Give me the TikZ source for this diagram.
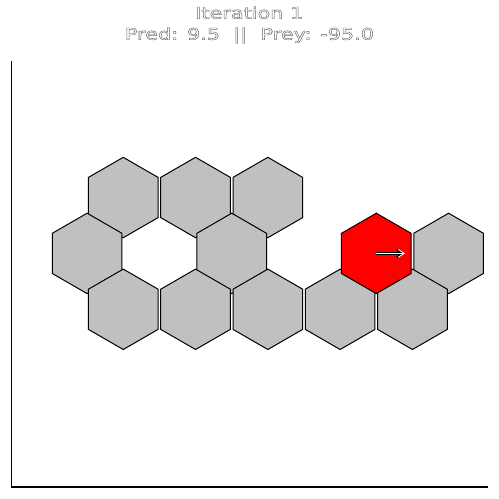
\documentclass[tikz,border=0pt]{standalone}
\usepackage{fontspec}
\setmainfont{DejaVu Sans}
\usepackage{graphicx}
\usepackage{tikz}
\usetikzlibrary{shapes.geometric, arrows.meta, positioning, calc}
\definecolor{cCell}{RGB}{192,192,192}
\definecolor{cPred}{RGB}{255,0,0}
\definecolor{cTitle}{RGB}{100,100,100}
\newcommand{\outlinetext}[1]{\scalebox{1.3}[1]{\special{pdf:literal direct 1 Tr 0.4 w}#1\special{pdf:literal direct 0 Tr}}}
\tikzset{
	cell/.style     ={regular polygon, regular polygon sides=6, regular polygon rotate=30, minimum size=80.4pt, inner sep=0pt, outer sep=0pt, draw=black, line width=1pt, fill=cCell},
	predcell/.style ={cell, fill=cPred},
	titletext/.style={anchor=base, inner sep=0pt, text=cTitle, font=\fontsize{16}{19}\selectfont},
	spine/.style    ={line width=1.1pt, black},
	% heading arrow: black outline under a white shaft
	headout/.style  ={-{Straight Barb[length=6pt, width=8pt]}, line width=2.2pt, black},
	headin/.style   ={-{Straight Barb[length=6pt, width=8pt]}, line width=0.9pt, white},
}

\begin{document}
\begin{tikzpicture}[x=1pt, y=-1pt]
	\useasboundingbox (0,0) rectangle (499,499);
	\draw[spine] (11.5,61) -- (11.5,487) -- (487.5,487);
	\foreach \p/\n in {(123.25,197.5)/c1,(195.55,197.5)/c2,(267.85,197.5)/c3,(87.1,253.4)/c4,(231.7,253.4)/c5,(448.6,253.4)/c6,(123.25,309.3)/c7,(195.55,309.3)/c8,(267.85,309.3)/c9,(340.15,309.3)/c10,(412.45,309.3)/c11} \node[cell] (\n) at \p {};
	\node[predcell] (pred) at (376.3,253.4) {};
	\coordinate (heading) at (405,253.4);
	\draw[headout] (pred.center) -- (heading);
	\draw[headin] (pred.center) -- (heading);
	\node[titletext] (title) at (249.3,18.7) {\outlinetext{Iteration 1}};
	\node[titletext] (score) at (249.5,39.7) {\outlinetext{Pred: 9.5\ \ ||\ \ Prey: -95.0}};
\end{tikzpicture}
\end{document}
